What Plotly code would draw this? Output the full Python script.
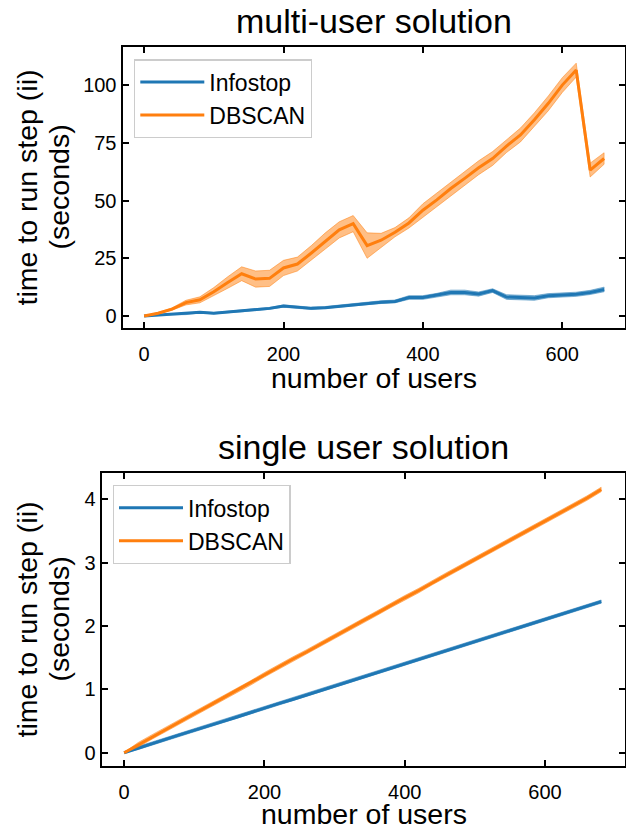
import plotly.graph_objects as go

W, H = 626, 829

# ---------------- data: multi-user solution (top) ----------------
users_multi = list(range(0, 661, 20))
infostop_multi = [0.0, 0.4, 0.7, 0.9, 1.6, 1.2, 1.7, 2.2, 2.6, 3.3, 4.3, 3.8, 3.3, 3.6, 4.2,
                  4.8, 5.5, 6.0, 6.3, 8.0, 8.0, 9.0, 10.2, 10.2, 9.5, 11.0, 8.2, 8.0, 7.8,
                  8.8, 9.2, 9.4, 10.2, 11.5]
infostop_multi_err = [0.1, 0.2, 0.2, 0.3, 0.3, 0.3, 0.3, 0.4, 0.4, 0.4, 0.5, 0.5, 0.5, 0.5, 0.5,
                      0.6, 0.6, 0.6, 0.6, 0.8, 0.8, 0.8, 1.0, 1.0, 0.9, 0.8, 1.0, 0.9, 1.0,
                      0.9, 0.9, 0.9, 0.9, 1.0]
dbscan_multi = [0.0, 1.2, 3.0, 5.8, 7.0, 10.5, 14.5, 18.3, 16.0, 16.3, 20.8, 22.5, 27.3, 32.5,
                37.3, 40.0, 30.5, 32.8, 36.3, 40.3, 45.8, 50.3, 55.2, 59.6, 64.2, 68.2, 73.6,
                78.4, 85.0, 92.1, 100.0, 106.5, 63.2, 68.2]
dbscan_multi_err = [0.1, 0.3, 0.5, 1.0, 1.3, 1.8, 2.5, 3.0, 3.5, 3.5, 3.3, 3.0, 3.2, 3.5, 3.5,
                    3.5, 5.5, 3.0, 2.0, 2.2, 2.8, 3.0, 3.0, 3.0, 3.0, 3.0, 2.8, 3.0, 3.0,
                    3.2, 3.2, 3.0, 3.0, 2.5]

# ---------------- data: single user solution (bottom) ----------------
users_single = list(range(0, 681, 20))
infostop_single = [0.0, 0.075, 0.145, 0.215, 0.285, 0.35, 0.42, 0.49, 0.56, 0.635, 0.70, 0.775,
                   0.84, 0.91, 0.98, 1.05, 1.12, 1.19, 1.26, 1.33, 1.40, 1.47, 1.54, 1.615,
                   1.685, 1.755, 1.825, 1.895, 1.965, 2.035, 2.105, 2.175, 2.245, 2.315, 2.385]
infostop_single_err = [0.005] + [0.025] * 34
dbscan_single = [0.0, 0.125, 0.25, 0.37, 0.49, 0.615, 0.735, 0.86, 0.98, 1.10, 1.23, 1.355,
                 1.475, 1.59, 1.715, 1.84, 1.96, 2.08, 2.20, 2.325, 2.445, 2.56, 2.69, 2.81,
                 2.93, 3.05, 3.175, 3.29, 3.415, 3.53, 3.65, 3.78, 3.90, 4.02, 4.155]
dbscan_single_err = [0.005] + [0.035] * 34

x_ticks = [0, 200, 400, 600]
y_ticks_multi = [0, 25, 50, 75, 100]
y_ticks_single = [0, 1, 2, 3, 4]

series_names = ["Infostop", "DBSCAN"]
titles = ["multi-user solution", "single user solution"]
x_title = "number of users"
y_title_lines = ["time to run step (ii)", "(seconds)"]

BLUE = "#1f77b4"
ORANGE = "#ff7f0e"
BLUE_F = "rgba(31,119,180,0.5)"
ORANGE_F = "rgba(255,127,14,0.5)"
FONT = "Arial, Liberation Sans, Helvetica, sans-serif"

fig = go.Figure()


def add_series(x, y, err, name, color, fill, xa, ya, legend):
    upper = [a + e for a, e in zip(y, err)]
    lower = [a - e for a, e in zip(y, err)]
    fig.add_trace(go.Scatter(
        x=list(x) + list(x)[::-1], y=upper + lower[::-1],
        fill="toself", fillcolor=fill, line=dict(color=fill, width=1),
        mode="lines", hoverinfo="skip", showlegend=False, xaxis=xa, yaxis=ya))
    fig.add_trace(go.Scatter(
        x=x, y=y, mode="lines", name=name, line=dict(color=color, width=3),
        xaxis=xa, yaxis=ya, legend=legend))


add_series(users_multi, infostop_multi, infostop_multi_err, series_names[0], BLUE, BLUE_F, "x", "y", "legend")
add_series(users_multi, dbscan_multi, dbscan_multi_err, series_names[1], ORANGE, ORANGE_F, "x", "y", "legend")
add_series(users_single, infostop_single, infostop_single_err, series_names[0], BLUE, BLUE_F, "x2", "y2", "legend2")
add_series(users_single, dbscan_single, dbscan_single_err, series_names[1], ORANGE, ORANGE_F, "x2", "y2", "legend2")

base_axis = dict(
    showline=True, linecolor="black", linewidth=2, mirror="allticks",
    showgrid=False, zeroline=False,
    tickfont=dict(family=FONT, size=20, color="black"),
)
# y axes: inward ticks, labels padded with a trailing space
y_axis = dict(ticks="inside", ticklen=6, tickwidth=1.6, tickcolor="black",
              ticksuffix="\u00a0\u200a", **base_axis)
# x axes: transparent outward major ticks only space the labels,
# inward minor ticks (at the tick values) draw the visible marks
x_minor = dict(ticks="inside", ticklen=6, tickwidth=1.6, tickcolor="black",
               tickvals=[v + 0.01 for v in x_ticks], showgrid=False)
x_axis = dict(ticks="outside", ticklen=7, tickwidth=1, tickcolor="rgba(0,0,0,0)",
              minor=x_minor, **base_axis)

legend_common = dict(
    xanchor="left", yanchor="top",
    bgcolor="rgba(255,255,255,0.8)", bordercolor="#cccccc", borderwidth=1.3,
    font=dict(family=FONT, size=23, color="black"), tracegroupgap=0, itemwidth=64,
)

fig.update_layout(
    width=W, height=H,
    paper_bgcolor="white", plot_bgcolor="white",
    margin=dict(l=0, r=0, t=0, b=0),
    font=dict(family=FONT, color="black"),
    xaxis=dict(domain=[122.5 / W, 625 / W], range=[-31, 690], tickvals=x_ticks,
               anchor="y", **x_axis),
    yaxis=dict(domain=[1 - 328 / H, 1 - 47 / H], range=[-5.2, 116.5], tickvals=y_ticks_multi,
               anchor="x", **y_axis),
    xaxis2=dict(domain=[101.7 / W, 625 / W], range=[-32, 714], tickvals=x_ticks,
                anchor="y2", **x_axis),
    yaxis2=dict(domain=[1 - 766 / H, 1 - 472.7 / H], range=[-0.21, 4.42], tickvals=y_ticks_single,
                anchor="x2", **y_axis),
    legend=dict(x=134 / W, y=1 - 59.3 / H, **legend_common),
    legend2=dict(x=112.7 / W, y=1 - 485 / H, **legend_common),
    showlegend=True,
)

ann = []
for txt, xc, yc in [(titles[0], 373.5, 21.5), (titles[1], 363.5, 447)]:
    ann.append(dict(text=txt, x=xc / W, y=1 - yc / H, xref="paper", yref="paper",
                    xanchor="center", yanchor="middle", showarrow=False,
                    font=dict(family=FONT, size=34, color="black")))
for xc, yc in [(373.5, 378), (363.5, 814)]:
    ann.append(dict(text=x_title, x=xc / W, y=1 - yc / H, xref="paper", yref="paper",
                    xanchor="center", yanchor="middle", showarrow=False,
                    font=dict(family=FONT, size=28.5, color="black")))
for yc in [187.5, 619.5]:
    for txt, xc in zip(y_title_lines, [26, 58]):
        ann.append(dict(text=txt, x=xc / W, y=1 - yc / H, xref="paper", yref="paper",
                        xanchor="center", yanchor="middle", showarrow=False, textangle=-90,
                        font=dict(family=FONT, size=28.5, color="black")))
fig.update_layout(annotations=ann)

fig.write_html("out.html", config={"displayModeBar": False},
               post_script="document.body.style.margin='0px';")
